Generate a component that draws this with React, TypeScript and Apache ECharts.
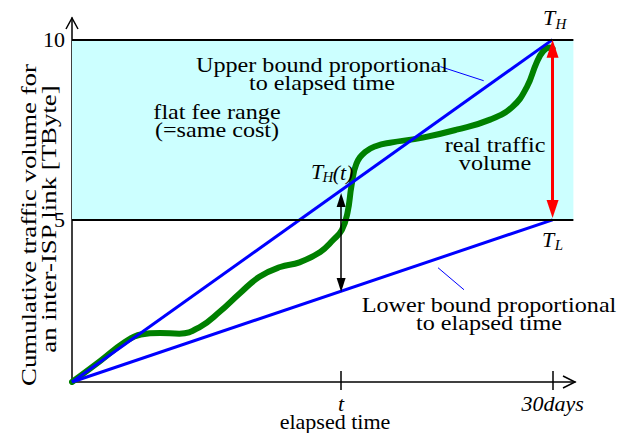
import React, { useEffect, useRef } from 'react';
import * as echarts from 'echarts';

// ---- data ----
const boundDays = [0, 30];
const upperBound = [0.5, 10];
const lowerBound = [0.5, 5];
const trafficDays = [0, 1.75, 3.3, 4.3, 5.5, 6.7, 8.0, 9.2, 10.5, 11.7, 13.0, 14.2, 15.5, 16.3, 16.85, 17.2, 17.45, 17.75, 18.3, 19.0, 19.85, 21.9, 24.0, 26.1, 27.5, 28.4, 29.0, 29.4, 29.8, 30];
const trafficVolume = [0.5, 1.08, 1.61, 1.82, 1.86, 1.84, 2.03, 2.44, 2.97, 3.42, 3.69, 3.82, 4.11, 4.44, 4.72, 5.2, 5.95, 6.55, 6.88, 7.05, 7.14, 7.28, 7.5, 7.78, 8.14, 8.69, 9.36, 9.67, 9.78, 9.75];
const xTickValues = [16.8, 30];
const xTickLabels = ['t', '30days'];
const yTickValues = [5, 10];
const flatFeeRange = [5, 10];
const tDay = 16.8;
const monthDay = 30;

const SERIF = 'Liberation Serif';

function txt(text: string, x: number, y: number, size: number, o: any = {}) {
  return {
    type: 'text',
    x,
    y,
    rotation: o.rotation || 0,
    scaleX: o.scaleX || 1,
    z: 20,
    style: {
      text,
      fontFamily: SERIF,
      fontSize: size,
      fontStyle: o.italic ? 'italic' : 'normal',
      fill: '#000',
      align: 'center',
      verticalAlign: 'middle',
      textAlign: 'center',
      textVerticalAlign: 'middle',
      lineHeight: o.lineHeight || size,
    },
  };
}

export default function App() {
  const ref = useRef<HTMLDivElement>(null);
  useEffect(() => {
    if (!ref.current) return;
    const chart = echarts.init(ref.current, null, { renderer: 'svg' });
    const pair = (xs: number[], ys: number[]) => xs.map((x, i) => [x, ys[i]]);
    const upperAt = (d: number) => upperBound[0] + (upperBound[1] - upperBound[0]) * d / boundDays[1];
    const lowerAt = (d: number) => lowerBound[0] + (lowerBound[1] - lowerBound[0]) * d / boundDays[1];
    const bandEnd = 31.3;
    const axisBase = {
      type: 'value',
      min: 0,
      max: 31.4,
      splitLine: { show: false },
    };
    const option: any = {
      animation: false,
      grid: { left: 72, top: 18, right: 49, bottom: 51 },
      xAxis: [
        {
          ...axisBase,
          axisLine: { show: true, lineStyle: { color: '#000', width: 1.5 } },
          axisTick: { show: true, inside: false, length: 8, customValues: xTickValues, lineStyle: { color: '#000', width: 1.5 } },
          axisLabel: {
            show: true,
            customValues: xTickValues,
            formatter: (v: number) => xTickLabels[xTickValues.indexOf(v)] ?? '',
            fontStyle: 'italic',
            fontFamily: SERIF,
            fontSize: 22,
            color: '#000',
            margin: 10,
          },
        },
        {
          ...axisBase,
          position: 'bottom',
          axisLine: { show: false },
          axisTick: { show: true, inside: true, length: 11, customValues: xTickValues, lineStyle: { color: '#000', width: 1.5 } },
          axisLabel: { show: false },
        },
      ],
      yAxis: {
        type: 'value',
        min: 0.5,
        max: 10.6,
        splitLine: { show: false },
        axisLine: { show: true, lineStyle: { color: '#000', width: 1.5 } },
        axisTick: { show: false },
        axisLabel: {
          show: true,
          customValues: yTickValues,
          fontFamily: SERIF,
          fontSize: 22,
          color: '#000',
          margin: 7,
        },
      },
      series: [
        {
          name: 'flat fee band',
          type: 'line',
          data: [],
          z: 1,
          markArea: {
            silent: true,
            itemStyle: { color: '#ccffff' },
            data: [[{ coord: [0, flatFeeRange[0]] }, { coord: [bandEnd, flatFeeRange[1]] }]],
          },
        },
        {
          name: 'limits',
          type: 'line',
          data: [],
          z: 2,
          markLine: {
            silent: true,
            symbol: ['none', 'none'],
            label: { show: false },
            lineStyle: { color: '#000', width: 2, type: 'solid' },
            data: flatFeeRange.map((v) => [{ coord: [0, v] }, { coord: [bandEnd, v] }]),
          },
        },
        {
          name: 'real traffic volume',
          type: 'line',
          data: pair(trafficDays, trafficVolume),
          smooth: 0.45,
          symbol: 'none',
          z: 3,
          lineStyle: { color: '#008000', width: 6, cap: 'round', join: 'round' },
        },
        {
          name: 'upper bound',
          type: 'line',
          data: pair(boundDays, upperBound),
          symbol: 'none',
          z: 4,
          lineStyle: { color: '#0000ff', width: 3 },
        },
        {
          name: 'lower bound',
          type: 'line',
          data: pair(boundDays, lowerBound),
          symbol: 'none',
          z: 4,
          lineStyle: { color: '#0000ff', width: 3 },
        },
        {
          name: 'leaders',
          type: 'line',
          data: [],
          z: 5,
          markLine: {
            silent: true,
            symbol: ['none', 'none'],
            label: { show: false },
            lineStyle: { color: '#0000ff', width: 1, type: 'solid' },
            data: [
              [{ coord: [23.0, 9.25] }, { coord: [25.7, 8.86] }],
              [{ coord: [22.85, 3.67] }, { coord: [24.47, 3.06] }],
            ],
          },
        },
        {
          name: 'range arrow',
          type: 'line',
          data: [],
          z: 6,
          markLine: {
            silent: true,
            symbol: ['triangle', 'triangle'],
            symbolSize: [12, 18],
            label: { show: false },
            lineStyle: { color: '#ff0000', width: 3, type: 'solid' },
            itemStyle: { color: '#ff0000' },
            data: [[{ coord: [monthDay, upperAt(monthDay) - 0.25] }, { coord: [monthDay, lowerAt(monthDay) + 0.3] }]],
          },
        },
        {
          name: 't arrow',
          type: 'line',
          data: [],
          z: 6,
          markLine: {
            silent: true,
            symbol: ['triangle', 'triangle'],
            symbolSize: [9, 14],
            label: { show: false },
            lineStyle: { color: '#000', width: 1.5, type: 'solid' },
            itemStyle: { color: '#000' },
            data: [[{ coord: [tDay, upperAt(tDay) - 0.27] }, { coord: [tDay, lowerAt(tDay) + 0.17] }]],
          },
        },
      ],
      graphic: [
        { type: 'polyline', z: 20, shape: { points: [[66, 29], [72, 18], [78, 29]] }, style: { stroke: '#000', lineWidth: 1.5, fill: null } },
        { type: 'polyline', z: 20, shape: { points: [[563, 376], [575, 382], [563, 388]] }, style: { stroke: '#000', lineWidth: 1.5, fill: null } },
        txt('Cumulative traffic volume for', 28, 225, 22, { rotation: Math.PI / 2, scaleX: 1.22 }),
        txt('an inter-ISP link [TByte]', 48, 219, 22, { rotation: Math.PI / 2, scaleX: 1.22 }),
        txt('Upper bound proportional\nto elapsed time', 322, 74, 21, { scaleX: 1.15, lineHeight: 18 }),
        txt('flat fee range\n(=same cost)', 217, 121, 21, { scaleX: 1.15, lineHeight: 18 }),
        txt('real traffic\nvolume', 495, 154, 21, { scaleX: 1.15, lineHeight: 18 }),
        txt('Lower bound proportional\nto elapsed time', 489, 314, 21, { scaleX: 1.15, lineHeight: 18 }),
        txt('elapsed time', 335, 422, 21, { scaleX: 1.05 }),
        txt('T', 549, 17, 22, { italic: true }),
        txt('H', 561, 24, 15, { italic: true }),
        txt('T', 548, 239, 22, { italic: true }),
        txt('L', 559, 245, 15, { italic: true }),
        txt('T', 317, 171, 22, { italic: true }),
        txt('H', 328, 177, 15, { italic: true }),
        txt('(t)', 343, 172, 22, { italic: true }),
      ],
    };
    chart.setOption(option);
    return () => chart.dispose();
  }, []);
  return <div ref={ref} style={{ position: 'fixed', left: 0, top: 0, width: 624, height: 433, background: '#fff' }} />;
}
